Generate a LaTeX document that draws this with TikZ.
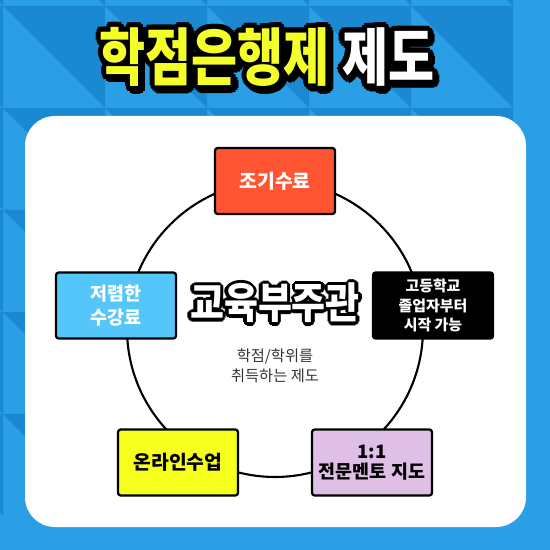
\documentclass[tikz,border=0pt]{standalone}
\usepackage{fontspec}
\setmainfont{Noto Sans CJK KR}[BoldFont={* Bold}]
\newfontfamily\krblack{Noto Sans CJK KR Black}
\usepackage{xcolor}
\usepackage{tikz}
\usetikzlibrary{calc}
\definecolor{bglight}{HTML}{2A9FE6}
\definecolor{bgdark}{HTML}{1A89D2}
\definecolor{cardred}{HTML}{FF5533}
\definecolor{cardblue}{HTML}{55C6FA}
\definecolor{cardyellow}{HTML}{F6FF1E}
\definecolor{cardlilac}{HTML}{E0BFE6}
\definecolor{ttlyellow}{HTML}{F4FF2A}
\definecolor{subgray}{HTML}{333333}
\newcommand{\titletext}[2]{\scalebox{1}[1.25]{{\color{#1}학점은행제}\hspace{7pt}{\color{#2}제도}}}
\newcommand{\hubtext}{\scalebox{1}[1.15]{교육부주관}}

\begin{document}
\begin{tikzpicture}[
  x=0.02cm, y=-0.02cm,
  card/.style={draw, line width=1.3pt, rounded corners=1.5pt, minimum width=2.4cm, minimum height=1.32cm, align=center, font=\krblack\fontsize{11}{14}\selectfont},
  titlefont/.style={font=\krblack\fontsize{28.5}{30}\selectfont, inner sep=0pt},
  hubfont/.style={font=\krblack\fontsize{21}{22}\selectfont, inner sep=0pt}
]
\useasboundingbox (0,0) rectangle (550,550);

% background tiles
\fill[bglight] (0,0) rectangle (550,550);
\begin{scope}
\clip (0,0) rectangle (550,550);
\foreach \i in {0,...,5}
  \foreach \j in {0,...,5}
    \fill[bgdark] ({3+102*(\i-1)},{6+102*(\j-1)}) -- ++(102,0) -- ++(0,102) -- cycle;
\end{scope}
\fill[white, rounded corners=17pt] (25,116) rectangle (526,527);

% title
\coordinate (ttl) at (267,57);
\foreach \a in {0,30,...,330} {
  \node[titlefont] at ($(ttl)+(\a:3pt)+(1.2pt,-1.5pt)$) {\titletext{black}{black}};
  \node[titlefont] at ($(ttl)+(\a:3pt)$) {\titletext{black}{black}};
}
\node[titlefont] (title) at (ttl) {\titletext{ttlyellow}{white}};

% ring
\node[draw, circle, line width=1.2pt, minimum size=5.92cm, inner sep=0pt] (ring) at (275,329) {};

% hub
\coordinate (hubc) at (275,303);
\foreach \a in {0,30,...,330}
  \node[hubfont, text=black] at ($(hubc)+(\a:1.8pt)$) {\hubtext};
\node[hubfont, text=white] (hub) at (hubc) {\hubtext};
\node[font=\fontsize{8.7}{11.5}\selectfont, text=subgray, align=center] (sub) at (275,366) {학점/학위를\\취득하는 제도};

% cards
\node[card, fill=cardred, text=white] (early) at (275,181) {조기수료};
\node[card, fill=cardblue, text=white, font=\krblack\fontsize{10.5}{14}\selectfont] (cheap) at (116,305.5) {저렴한\\수강료};
\node[card, fill=black, text=white, font=\krblack\fontsize{8.5}{11}\selectfont] (grad) at (433,305.5) {고등학교\\졸업자부터\\시작 가능};
\node[card, fill=cardyellow] (online) at (178,462.5) {온라인수업};
\node[card, fill=cardlilac, font=\krblack\fontsize{10.5}{11.5}\selectfont] (mentor) at (372,462.5) {1:1\\전문멘토 지도};
\end{tikzpicture}
\end{document}
